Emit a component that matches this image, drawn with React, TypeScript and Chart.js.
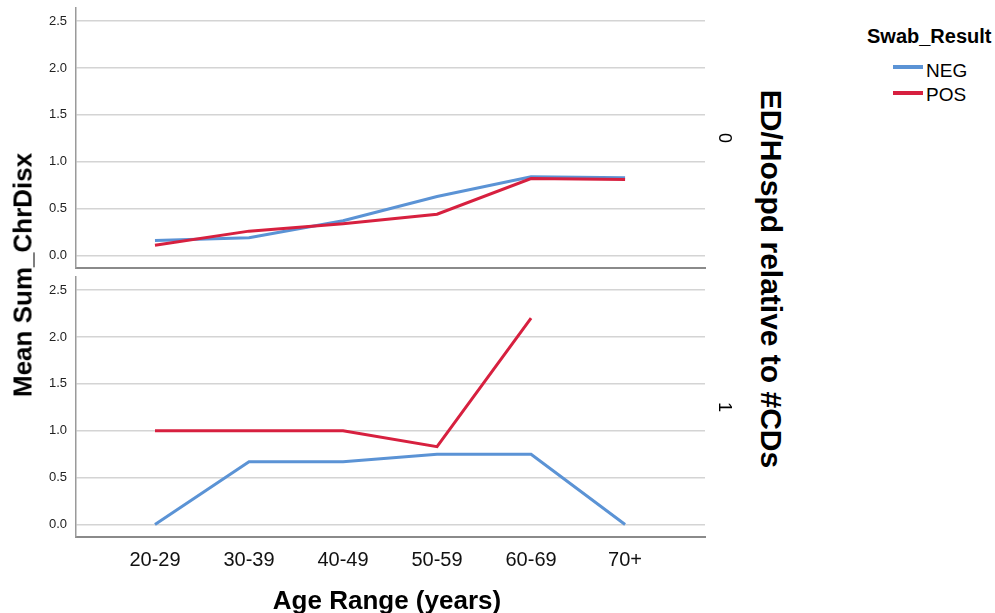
import React, { useEffect, useRef } from "react";
import { Chart, registerables } from "chart.js";
Chart.register(...registerables);

const ageRanges = ["20-29", "30-39", "40-49", "50-59", "60-69", "70+"];
const yTicks = [0, 0.5, 1.0, 1.5, 2.0, 2.5];
const seriesNames = ["NEG", "POS"];
const panelLabels = ["0", "1"];
// Panel 0 (ED/Hospd relative to #CDs = 0)
const neg0 = [0.16, 0.19, 0.37, 0.63, 0.84, 0.83];
const pos0 = [0.11, 0.26, 0.34, 0.44, 0.82, 0.81];
// Panel 1 (ED/Hospd relative to #CDs = 1)
const neg1 = [0.0, 0.67, 0.67, 0.75, 0.75, 0.0];
const pos1: (number | null)[] = [1.0, 1.0, 1.0, 0.83, 2.2, null];

const NEG_COLOR = "#5b93d5";
const POS_COLOR = "#d7203f";
const FONT = "'Liberation Sans', Arial, Helvetica, sans-serif";

function toPoints(vals: (number | null)[]) {
  return vals
    .map((v, i) => (v === null ? null : { x: i, y: v }))
    .filter((p) => p !== null) as { x: number; y: number }[];
}

function makeConfig(neg: (number | null)[], pos: (number | null)[], showX: boolean, pad: any): any {
  return {
    type: "line",
    data: {
      datasets: [
        {
          label: seriesNames[0],
          data: toPoints(neg),
          borderColor: NEG_COLOR,
          backgroundColor: NEG_COLOR,
          borderWidth: 3,
          pointRadius: 0,
          tension: 0,
          order: 1,
        },
        {
          label: seriesNames[1],
          data: toPoints(pos),
          borderColor: POS_COLOR,
          backgroundColor: POS_COLOR,
          borderWidth: 3,
          pointRadius: 0,
          tension: 0,
          order: 0,
        },
      ],
    },
    options: {
      responsive: false,
      animation: false,
      devicePixelRatio: 1,
      layout: { padding: pad },
      plugins: { legend: { display: false }, tooltip: { enabled: false } },
      scales: {
        x: {
          type: "linear",
          min: -0.84,
          max: 5.85,
          afterBuildTicks: (s: any) => {
            s.ticks = ageRanges.map((_, i) => ({ value: i }));
          },
          afterFit: (s: any) => {
            s.height = showX ? 76 : 0;
            s.paddingLeft = 0;
            s.paddingRight = 0;
          },
          ticks: {
            display: showX,
            autoSkip: false,
            maxRotation: 0,
            padding: 11,
            color: "#111",
            font: { family: FONT, size: 20 },
            callback: (v: any) => ageRanges[Math.round(Number(v))] ?? "",
          },
          grid: { display: false, drawTicks: false },
          border: { display: true, color: "#8a8a8a", width: 2 },
        },
        y: {
          type: "linear",
          min: -0.133,
          max: 2.639,
          afterBuildTicks: (s: any) => {
            s.ticks = yTicks.map((v) => ({ value: v }));
          },
          afterFit: (s: any) => {
            s.width = 76;
            s.paddingTop = 0;
            s.paddingBottom = 0;
          },
          ticks: {
            padding: 9,
            color: "#222",
            font: { family: FONT, size: 13 },
            callback: (v: any) => Number(v).toFixed(1),
          },
          grid: { color: "#d4d4d4", lineWidth: 1.5, drawTicks: false },
          border: { display: true, color: "#9a9a9a", width: 1.5 },
        },
      },
    },
  };
}

export default function App() {
  const topRef = useRef<HTMLCanvasElement>(null);
  const botRef = useRef<HTMLCanvasElement>(null);

  useEffect(() => {
    const c1 = new Chart(topRef.current!, makeConfig(neg0, pos0, false, { left: 0, right: 10, top: 8, bottom: 4 }));
    const c2 = new Chart(botRef.current!, makeConfig(neg1, pos1, true, { left: 0, right: 10, top: 7, bottom: 0 }));
    return () => {
      c1.destroy();
      c2.destroy();
    };
  }, []);

  const abs: React.CSSProperties = { position: "absolute", whiteSpace: "nowrap", fontFamily: FONT, color: "#000" };

  return (
    <div style={{ position: "absolute", left: 0, top: 0, width: 995, height: 613, background: "#fff", overflow: "hidden" }}>
      <canvas ref={topRef} width={715} height={272} style={{ position: "absolute", left: 0, top: 0, display: "block" }} />
      <canvas ref={botRef} width={715} height={343} style={{ position: "absolute", left: 0, top: 270, display: "block" }} />

      <div style={{ ...abs, left: 23, top: 275, transform: "translate(-50%,-50%) rotate(-90deg)", fontWeight: "bold", fontSize: 26 }}>
        Mean Sum_ChrDisx
      </div>
      <div style={{ ...abs, left: 387, top: 600, transform: "translate(-50%,-50%)", fontWeight: "bold", fontSize: 26 }}>
        Age Range (years)
      </div>
      <div style={{ ...abs, left: 771, top: 279, transform: "translate(-50%,-50%) rotate(90deg)", fontWeight: "bold", fontSize: 30 }}>
        ED/Hospd relative to #CDs
      </div>
      <div style={{ ...abs, left: 724, top: 138, transform: "translate(-50%,-50%) rotate(90deg)", fontSize: 18 }}>
        {panelLabels[0]}
      </div>
      <div style={{ ...abs, left: 724, top: 407, transform: "translate(-50%,-50%) rotate(90deg)", fontSize: 18 }}>
        {panelLabels[1]}
      </div>

      <div style={{ ...abs, left: 867, top: 36, transform: "translateY(-50%)", fontWeight: "bold", fontSize: 20 }}>
        Swab_Result
      </div>
      <div style={{ position: "absolute", left: 893, top: 65, width: 30, height: 4, background: NEG_COLOR }} />
      <div style={{ ...abs, left: 926, top: 71, transform: "translateY(-50%)", fontSize: 19 }}>{seriesNames[0]}</div>
      <div style={{ position: "absolute", left: 893, top: 91, width: 30, height: 4, background: POS_COLOR }} />
      <div style={{ ...abs, left: 926, top: 95, transform: "translateY(-50%)", fontSize: 19 }}>{seriesNames[1]}</div>
    </div>
  );
}
